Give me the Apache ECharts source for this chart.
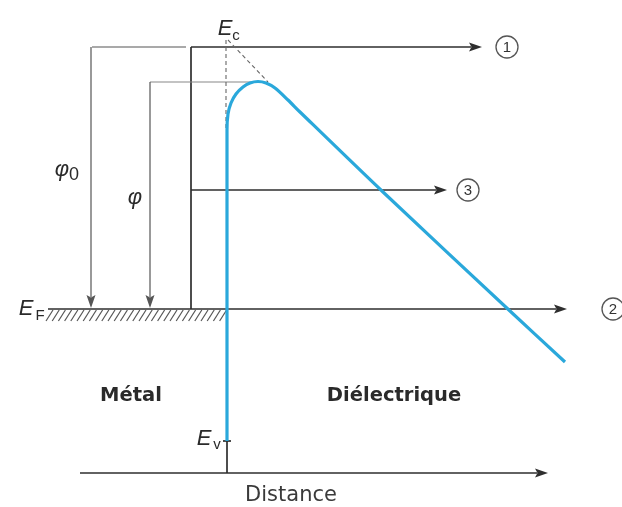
<!DOCTYPE html>
<html><head><meta charset="utf-8">
<script src="https://cdn.jsdelivr.net/npm/echarts@6/dist/echarts.min.js"></script>
<style>html,body{margin:0;padding:0;background:#fff}#c{width:622px;height:507px}</style>
</head><body><div id="c"></div>
<script>
// Diagram coordinates (x: distance, y: energy drawn downward)
const barrierCurve = [[227,441],[227,130],[228,114],[231,103],[236,94],[243,87],[250,83],[258,81.5],[266,83],[275,88],[288,100],[300,112],[383,192],[510,311],[565,362]];
// [x1, y1, x2, y2, arrow(1/0), kind]
const solidSegments = [
  [92,47,186,47,0,'thin'],
  [191,309,191,47,0,'frame'],
  [191,47,482,47,1,'frame'],
  [150,82,257,82,0,'light'],
  [91,47,91,308,1,'thin'],
  [150,82,150,308,1,'thin'],
  [48,309,567,309,1,'frame'],
  [191,190,447,190,1,'frame'],
  [227,441,227,473,0,'frame'],
  [223,441,231,441,0,'frame'],
  [80,473,548,473,1,'frame']
];
const dashedSegments = [[226,40,226,128],[228,40,268,82]];
const hatchRange = [46, 222]; // x extent of hatched metal surface
const hatchDepth = [310, 321];
const circledNumbers = [[507,47,'1'],[468,190,'3'],[613,309,'2']];
// [text, x, y, kind]
const textLabels = [
  ['E',225,29,'E'],['c',236,36,'sub'],
  ['φ',62,170,'E'],['0',74,175,'sub0'],
  ['φ',135,198,'E'],
  ['E',26,309,'E'],['F',40,316,'sub'],
  ['E',204,439,'E'],['v',217,445,'sub'],
  ['Métal',131,396,'bold'],
  ['Diélectrique',394,396,'bold'],
  ['Distance',291,496,'plain']
];

const hatchSegs = [];
for (let x = hatchRange[0]; x <= hatchRange[1]; x += 6.2) {
  hatchSegs.push([x, hatchDepth[1], x + 7, hatchDepth[0]]);
}

const styles = {
  frame: {stroke:'#2e2e2e', lineWidth:1.7},
  thin: {stroke:'#555', lineWidth:1.2},
  light: {stroke:'#888', lineWidth:1.1}
};
const fonts = {
  E: {font:'italic 22px "Liberation Sans"', fill:'#2a2a2a'},
  sub: {font:'15px "Liberation Sans"', fill:'#2a2a2a'},
  sub0: {font:'18px "Liberation Sans"', fill:'#2a2a2a'},
  bold: {font:'bold 19.5px "DejaVu Sans"', fill:'#2a2a2a'},
  plain: {font:'21px "DejaVu Sans"', fill:'#3a3a3a'}
};

function segItem(seg, style, dash, api) {
  const p1 = api.coord([seg[0], seg[1]]);
  const p2 = api.coord([seg[2], seg[3]]);
  const children = [];
  let end = p2;
  if (seg[4]) {
    const dx = p2[0]-p1[0], dy = p2[1]-p1[1];
    const L = Math.hypot(dx, dy), ux = dx/L, uy = dy/L;
    const al = 13, aw = 4.5;
    const bx = p2[0]-ux*al, by = p2[1]-uy*al;
    end = [bx+ux*2, by+uy*2];
    children.push({type:'polygon', shape:{points:[[p2[0],p2[1]],[bx-uy*aw,by+ux*aw],[bx+ux*2.5,by+uy*2.5],[bx+uy*aw,by-ux*aw]]}, style:{fill:style.stroke}});
  }
  children.unshift({type:'line', shape:{x1:p1[0],y1:p1[1],x2:end[0],y2:end[1]}, style:Object.assign({lineDash:dash}, style)});
  return {type:'group', children};
}

const chart = echarts.init(document.getElementById('c'), null, {renderer:'canvas'});
chart.setOption({
  animation:false,
  backgroundColor:'#fff',
  grid:{left:0,right:0,top:0,bottom:0},
  xAxis:{type:'value',min:0,max:622,show:false},
  yAxis:{type:'value',min:0,max:507,inverse:true,show:false},
  series:[
    {type:'custom', data:hatchSegs, encode:{x:[0,2],y:[1,3]}, silent:true,
     renderItem:(p,api)=>segItem([api.value(0),api.value(1),api.value(2),api.value(3),0], {stroke:'#555',lineWidth:1.2}, null, api)},
    {type:'custom', data:solidSegments, encode:{x:[0,2],y:[1,3]}, silent:true,
     renderItem:(p,api)=>{const s=solidSegments[p.dataIndex]; return segItem(s, styles[s[5]], null, api);}},
    {type:'custom', data:dashedSegments, encode:{x:[0,2],y:[1,3]}, silent:true,
     renderItem:(p,api)=>segItem([api.value(0),api.value(1),api.value(2),api.value(3),0], {stroke:'#666',lineWidth:1.1}, [4,3], api)},
    {type:'line', data:barrierCurve, smooth:0.3, symbol:'none', silent:true,
     lineStyle:{color:'#2aa8db', width:3.2}, z:5},
    {type:'custom', data:circledNumbers, encode:{x:0,y:1}, silent:true,
     renderItem:(p,api)=>{const c=api.coord([api.value(0),api.value(1)]); return {type:'group',children:[
       {type:'circle',shape:{cx:c[0],cy:c[1],r:11},style:{fill:'#fff',stroke:'#555',lineWidth:1.3}},
       {type:'text',x:c[0],y:c[1]+0.5,style:{text:circledNumbers[p.dataIndex][2],font:'15px "Liberation Sans"',fill:'#333',align:'center',verticalAlign:'middle'}}]};}},
    {type:'custom', data:textLabels.map(t=>[t[1],t[2]]), encode:{x:0,y:1}, silent:true, z:6,
     renderItem:(p,api)=>{const t=textLabels[p.dataIndex]; const c=api.coord([api.value(0),api.value(1)]);
       return {type:'text',x:c[0],y:c[1],style:Object.assign({text:t[0],align:'center',verticalAlign:'middle'}, fonts[t[3]])};}}
  ]
});
</script></body></html>
